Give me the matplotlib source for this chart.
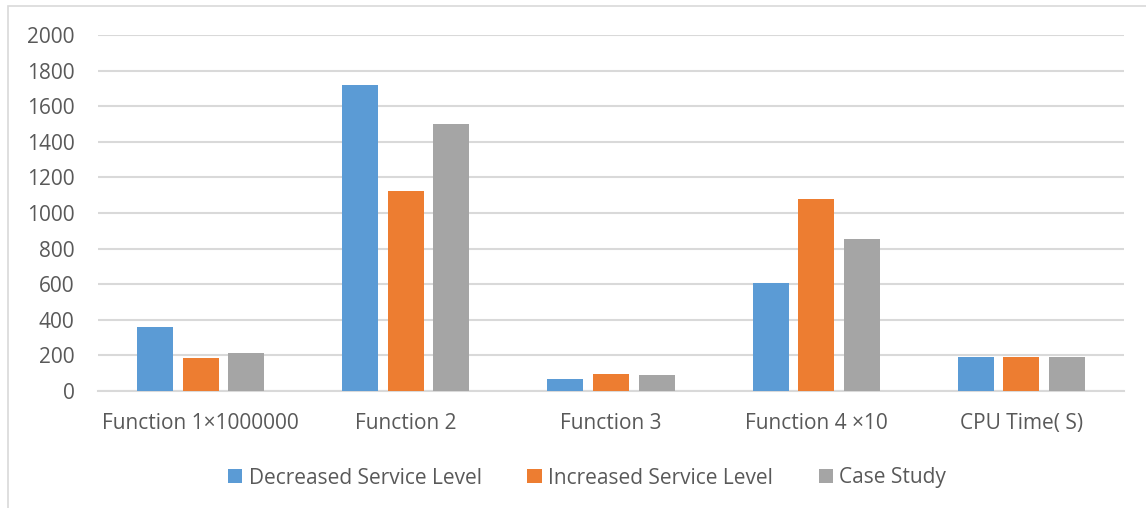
import matplotlib
matplotlib.use("Agg")
import matplotlib.pyplot as plt
import numpy as np
from matplotlib.patches import Rectangle

categories = ["Function 1×1000000", "Function 2", "Function 3", "Function 4 ×10", "CPU Time( S)"]
series_names = ["Decreased Service Level", "Increased Service Level", "Case Study"]
decreased = [362, 1718, 70, 605, 190]
increased = [184, 1124, 95, 1079, 191]
case_study = [215, 1500, 90, 852, 190]
yticks = [0, 200, 400, 600, 800, 1000, 1200, 1400, 1600, 1800, 2000]

colors = ["#5B9BD5", "#ED7D31", "#A5A5A5"]
text_color = "#595959"
grid_color = "#D9D9D9"

plt.rcParams['font.family'] = ['Open Sans', 'DejaVu Sans']

fig = plt.figure(figsize=(11.46, 5.08), dpi=100)
fig.patch.set_facecolor("white")
ax = fig.add_axes([98/1146, (508-391)/508, (1124-98)/1146, (391-35)/508])

x = np.arange(len(categories))
width = 0.175
step = 0.222
for i, (vals, name) in enumerate(zip([decreased, increased, case_study], series_names)):
    ax.bar(x + (i - 1) * step, vals, width=width, color=colors[i], label=name, zorder=3)

ax.set_xlim(-0.5, len(categories) - 0.5)
ax.set_ylim(0, 2000)
ax.set_yticks(yticks)
ax.set_yticklabels([str(t) for t in yticks])
ax.set_xticks(x)
ax.set_xticklabels(categories)
ax.yaxis.grid(True, color=grid_color, linewidth=1.5, zorder=0)
ax.set_axisbelow(True)
for s in ["top", "right", "left"]:
    ax.spines[s].set_visible(False)
ax.spines["bottom"].set_color(grid_color)
ax.spines["bottom"].set_linewidth(1.5)
ax.tick_params(axis="both", length=0, labelsize=15, colors=text_color)
ax.tick_params(axis="y", pad=17)
ax.tick_params(axis="x", pad=16)

leg = fig.legend(loc="center", bbox_to_anchor=((573 + 14) / 1146, 1 - 478/508), ncol=3, frameon=False,
                 fontsize=15, handlelength=0.68, handleheight=0.68, handletextpad=0.3,
                 columnspacing=2.2)
for t in leg.get_texts():
    t.set_color(text_color)

fig.patches.append(Rectangle((8/1146, -0.1), 1.2, 0.1 + (508-6)/508, transform=fig.transFigure,
                             fill=False, edgecolor=grid_color, linewidth=1.2))

fig.savefig("out.png", dpi=100)
